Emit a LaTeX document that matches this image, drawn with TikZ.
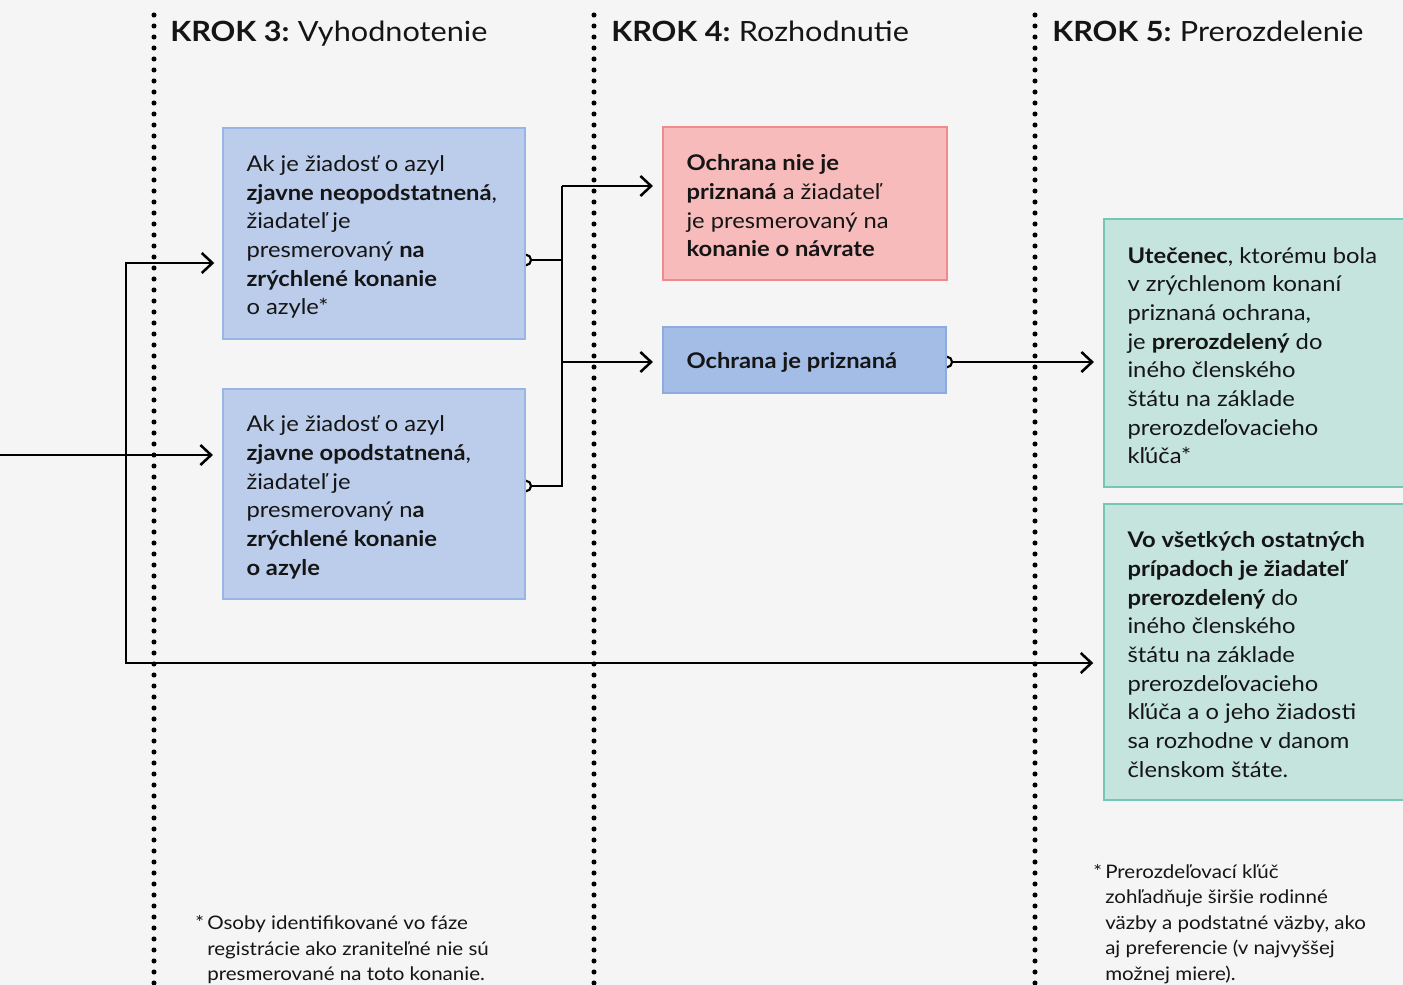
\documentclass[tikz,border=0pt]{standalone}
\usepackage{fontspec}
\setmainfont{Lato}[FakeStretch=1.1]
\usetikzlibrary{arrows.meta,calc}
\definecolor{bg}{HTML}{F5F5F5}
\definecolor{blueF}{HTML}{BBCDEB}
\definecolor{blueD}{HTML}{98B5E3}
\definecolor{blue2F}{HTML}{A4BDE6}
\definecolor{blue2D}{HTML}{8CABDF}
\definecolor{redF}{HTML}{F7BBBB}
\definecolor{redD}{HTML}{EF8A8D}
\definecolor{tealF}{HTML}{C5E4DD}
\definecolor{tealD}{HTML}{74C6B5}
\definecolor{ink}{HTML}{151515}
\begin{document}
\begin{tikzpicture}[x=0.75pt,y=-0.75pt,
  boxstyle/.style={draw, line width=1.1pt, inner sep=0pt, rectangle},
  body/.style={font=\fontsize{16.2}{21.5}\selectfont, align=left, inner sep=0pt, text=ink, anchor=west},
  foot/.style={font=\fontsize{14}{19.1}\selectfont, align=left, inner sep=0pt, text=ink, anchor=west},
  head/.style={font=\fontsize{20.9}{25}\selectfont, inner sep=0pt, text=ink, anchor=base west},
  conn/.style={line width=1.9pt, draw=black},
  arr/.style={conn, -{Straight Barb[length=8pt,width=15pt]}, shorten >=7pt},
  arrboth/.style={conn, {Straight Barb[length=8pt,width=15pt]}-{Straight Barb[length=8pt,width=15pt]}, shorten >=7.5pt, shorten <=6pt},
  knob/.style={line width=1.6pt, draw=black, fill=bg},
  dots/.style={line width=3.8pt, line cap=round, dash pattern=on 0pt off 8.25pt, black}
]
\clip (0,0) rectangle (1403,985);
\fill[bg] (0,0) rectangle (1403,985);

% step separators
\coordinate (s3t) at (154,15); \coordinate (s3b) at (154,990);
\coordinate (s4t) at (594,15); \coordinate (s4b) at (594,990);
\coordinate (s5t) at (1035,15); \coordinate (s5b) at (1035,990);
\draw[dots] (s3t) -- (s3b);
\draw[dots] (s4t) -- (s4b);
\draw[dots] (s5t) -- (s5b);

% headers
\node[head] (h3) at (170,41) {\textbf{KROK 3:}\hspace{0.3em}Vyhodnotenie};
\node[head] (h4) at (611,41) {\textbf{KROK 4:}\hspace{0.3em}Rozhodnutie};
\node[head] (h5) at (1052,41) {\textbf{KROK 5:}\hspace{0.3em}Prerozdelenie};

% box shapes (positions)
\path (374,233.5) node[boxstyle, minimum width=226.5pt, minimum height=158.25pt] (a) {};
\path (374,494) node[boxstyle, minimum width=226.5pt, minimum height=157.5pt] (b) {};
\path (805,203.5) node[boxstyle, minimum width=213pt, minimum height=114.75pt] (c) {};
\path (804.5,360) node[boxstyle, minimum width=212.25pt, minimum height=49.5pt] (d) {};
\path (1262,353) node[boxstyle, minimum width=237pt, minimum height=201pt] (e) {};
\path (1262,652) node[boxstyle, minimum width=237pt, minimum height=222pt] (f) {};

% connectors
\coordinate (in) at (0,455);
\coordinate (t1) at (126,263);
\coordinate (t2) at (126,663);
\coordinate (jx) at (562,0);
\draw[arr] (in) -- (in -| b.west);
\draw[arrboth] (t1 -| a.west) -- (t1) -- (t2) -- (t2 -| f.west);
\draw[conn] (a.east |- 0,260) -- (jx |- 0,260);
\draw[conn] (b.east |- 0,486) -- (jx |- 0,486) -- (jx |- 0,186);
\draw[arr] (jx |- 0,186) -- (c.west |- 0,186);
\draw[arr] (jx |- 0,362) -- (d.west |- 0,362);
\draw[arr] (d.east |- 0,362) -- (e.west |- 0,362);
\draw[knob] (a.east |- 0,260) circle[radius=4pt];
\draw[knob] (b.east |- 0,486) circle[radius=4pt];
\draw[knob] (d.east |- 0,362) circle[radius=4pt];

% boxes on top
\node[boxstyle, fill=blueF, draw=blueD, minimum width=226.5pt, minimum height=158.25pt] at (a) {};
\node[boxstyle, fill=blueF, draw=blueD, minimum width=226.5pt, minimum height=157.5pt] at (b) {};
\node[boxstyle, fill=redF, draw=redD, minimum width=213pt, minimum height=114.75pt] at (c) {};
\node[boxstyle, fill=blue2F, draw=blue2D, minimum width=212.25pt, minimum height=49.5pt] at (d) {};
\node[boxstyle, fill=tealF, draw=tealD, minimum width=237pt, minimum height=201pt] at (e) {};
\node[boxstyle, fill=tealF, draw=tealD, minimum width=237pt, minimum height=222pt] at (f) {};

% texts
\node[body] (ta) at ($(a.west)+(24,3.5)$) {Ak je žiadosť o azyl\\\textbf{zjavne neopodstatnená},\\žiadateľ je\\presmerovaný \textbf{na}\\\textbf{zrýchlené konanie}\\o azyle*};
\node[body] (tb) at ($(b.west)+(24,3.5)$) {Ak je žiadosť o azyl\\\textbf{zjavne opodstatnená},\\žiadateľ je\\presmerovaný n\textbf{a}\\\textbf{zrýchlené konanie}\\\textbf{o azyle}};
\node[body] (tc) at ($(c.west)+(24,2.5)$) {\textbf{Ochrana nie je}\\\textbf{priznaná} a žiadateľ\\je presmerovaný na\\\textbf{konanie o návrate}};
\node[body] (td) at ($(d.west)+(24,2.5)$) {\textbf{Ochrana je priznaná}};
\node[body] (te) at ($(e.west)+(24,2.5)$) {\textbf{Utečenec}, ktorému bola\\v zrýchlenom konaní\\priznaná ochrana,\\je \textbf{prerozdelený} do\\iného členského\\štátu na základe\\prerozdeľovacieho\\kľúča*};
\node[body] (tf) at ($(f.west)+(24,2.5)$) {\textbf{Vo všetkých ostatných}\\\textbf{prípadoch je žiadateľ}\\\textbf{prerozdelený} do\\iného členského\\štátu na základe\\prerozdeľovacieho\\kľúča a o jeho žiadosti\\sa rozhodne v danom\\členskom štáte.};

% footnotes
\node[foot] (n1) at (207,950) {\llap{*\,}Osoby identifikované vo fáze\\registrácie ako zraniteľné nie sú\\presmerované na toto konanie.};
\node[foot] (n2) at (1105,924) {\llap{*\,}Prerozdeľovací kľúč\\zohľadňuje širšie rodinné\\väzby a podstatné väzby, ako\\aj preferencie (v najvyššej\\možnej miere).};
\end{tikzpicture}
\end{document}
